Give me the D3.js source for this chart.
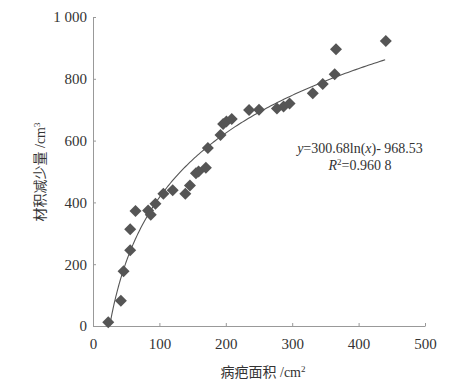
<!DOCTYPE html>
<html>
<head>
<meta charset="utf-8">
<script src="https://cdn.jsdelivr.net/npm/d3@7"></script>
<style>
  body { margin: 0; background: #fff; }
  svg text { font-family: "Liberation Serif", "Times New Roman", "Noto Sans CJK SC", serif; fill: #333; }
  .axis path, .axis line { stroke: #999; }
</style>
</head>
<body>
<div id="chart"></div>
<script>
// lesion area (cm2) and volume loss (cm3)
var areaValues = [23, 42, 46, 56, 56, 64, 83, 87, 94, 106, 120, 139, 146, 155, 159, 170,
                  173, 192, 196, 201, 209, 235, 250, 277, 287, 296, 331, 346, 364, 366, 441];
var lossValues = [12, 82, 177, 245, 313, 372, 374, 360, 396, 428, 439, 428, 455, 494, 500, 512,
                  576, 618, 654, 662, 670, 699, 700, 704, 710, 720, 753, 783, 815, 896, 922];
var xTicks = [0, 100, 200, 300, 400, 500];
var yTicks = [0, 200, 400, 600, 800, 1000];
var fitA = 300.68, fitB = -968.53;
var fitRange = [25.1, 440];

var W = 450, H = 385;
var margin = {top: 17, right: 25, bottom: 59, left: 93};
var width = W - margin.left - margin.right,
    height = H - margin.top - margin.bottom;

var svg = d3.select("#chart").append("svg")
    .attr("width", W)
    .attr("height", H)
  .append("g")
    .attr("transform", "translate(" + margin.left + "," + margin.top + ")");

var x = d3.scaleLinear().domain([0, 500]).range([0, width]);
var y = d3.scaleLinear().domain([0, 1000]).range([height, 0]);

var fmt = function(d) { return d >= 1000 ? d3.format(",")(d).replace(",", " ") : d; };

// axes, ticks point inward
var xa = svg.append("g")
    .attr("class", "axis")
    .attr("transform", "translate(0," + height + ")")
    .call(d3.axisBottom(x).tickValues(xTicks).tickSize(-3).tickSizeOuter(0).tickPadding(10).tickFormat(fmt));
xa.selectAll("text").attr("font-size", 15).attr("dy", "0.85em");

var ya = svg.append("g")
    .attr("class", "axis")
    .call(d3.axisLeft(y).tickValues(yTicks).tickSize(-3).tickSizeOuter(0).tickPadding(6).tickFormat(fmt));
ya.selectAll("text").attr("font-size", 15);
svg.selectAll(".axis .domain").attr("stroke", "#999");
svg.selectAll(".axis text").attr("fill", "#333");

// fitted log curve
var curveData = d3.range(0, 201).map(function(i) {
  var t = fitRange[0] + (fitRange[1] - fitRange[0]) * Math.pow(i / 200, 2);
  return [t, fitA * Math.log(t) + fitB];
});
svg.append("path")
    .datum(curveData)
    .attr("fill", "none")
    .attr("stroke", "#555")
    .attr("stroke-width", 1.1)
    .attr("d", d3.line().x(function(d) { return x(d[0]); }).y(function(d) { return y(d[1]); }));

// diamond markers
var r = 6;
svg.selectAll(".pt")
    .data(areaValues.map(function(a, i) { return [a, lossValues[i]]; }))
  .enter().append("path")
    .attr("class", "pt")
    .attr("fill", "#555")
    .attr("transform", function(d) { return "translate(" + x(d[0]) + "," + y(d[1]) + ")"; })
    .attr("d", "M0," + (-r) + "L" + r + ",0L0," + r + "L" + (-r) + ",0Z");

// equation
var eq = svg.append("text")
    .attr("x", 360 - margin.left)
    .attr("y", 153 - margin.top)
    .attr("text-anchor", "middle")
    .attr("font-size", 14);
eq.append("tspan").attr("font-style", "italic").text("y");
eq.append("tspan").text("=300.68ln(");
eq.append("tspan").attr("font-style", "italic").text("x");
eq.append("tspan").text(")- 968.53");

var r2 = svg.append("text")
    .attr("x", 360 - margin.left)
    .attr("y", 170 - margin.top)
    .attr("text-anchor", "middle")
    .attr("font-size", 14);
r2.append("tspan").attr("font-style", "italic").text("R");
r2.append("tspan").attr("font-size", 9).attr("dy", -5).text("2");
r2.append("tspan").attr("dy", 5).text("=0.960 8");

// axis titles
var xt = svg.append("text")
    .attr("x", 263 - margin.left)
    .attr("y", 377 - margin.top)
    .attr("text-anchor", "middle")
    .attr("font-size", 14);
xt.append("tspan").text("病疤面积 /cm");
xt.append("tspan").attr("font-size", 9).attr("dy", -5).text("2");

var yt = svg.append("text")
    .attr("transform", "translate(" + (45 - margin.left) + "," + (172 - margin.top) + ") rotate(-90)")
    .attr("text-anchor", "middle")
    .attr("font-size", 14);
yt.append("tspan").text("材积减少量 /cm");
yt.append("tspan").attr("font-size", 9).attr("dy", -5).text("3");
</script>
</body>
</html>
